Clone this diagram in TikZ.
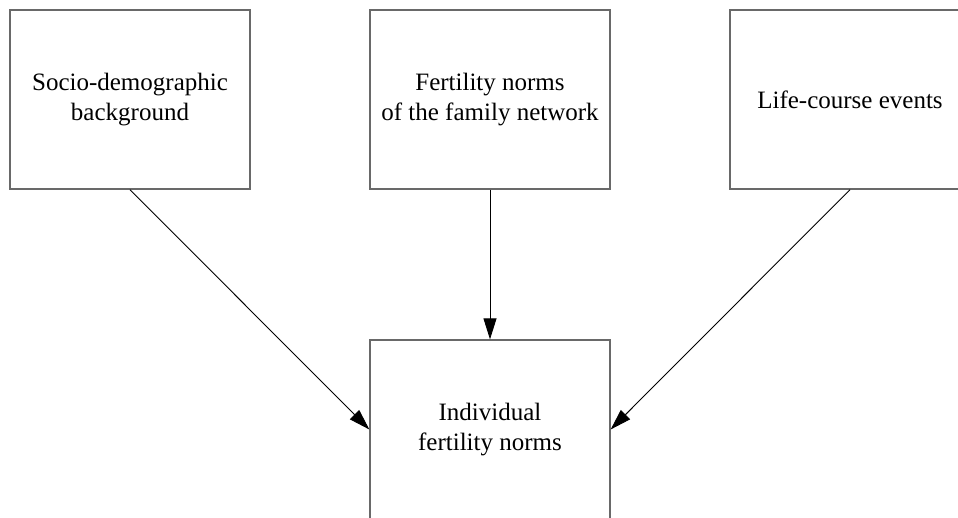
\documentclass[tikz,border=0pt]{standalone}
\usepackage{fontspec}
\setmainfont{Liberation Serif}
\usetikzlibrary{arrows.meta}
\definecolor{boxgray}{RGB}{105,105,105}
\begin{document}
\begin{tikzpicture}[x=1pt,y=-1pt,
  box/.style={draw=boxgray,line width=1.3pt,minimum width=240pt,minimum height=179pt,inner sep=0pt,align=center,font=\fontsize{25}{29.5}\selectfont},
  conn/.style={draw=black,line width=0.9pt,-{Triangle[length=21pt,width=13pt]}}]
\useasboundingbox (0,0) rectangle (958,518);
\clip (0,0) rectangle (958,518);
\fill[white] (0,0) rectangle (958,518);
\node[box] (socio) at (130,99.5) {Socio-demographic\\background};
\node[box] (family) at (490,99.5) {Fertility norms\\of the family network};
\node[box] (life) at (850,99.5) {Life-course events};
\node[box] (indiv) at (490,429.5) {Individual\\fertility norms};
\draw[conn] (socio.south) -- (indiv.west);
\draw[conn] (family.south) -- (indiv.north);
\draw[conn] (life.south) -- (indiv.east);
\end{tikzpicture}
\end{document}
